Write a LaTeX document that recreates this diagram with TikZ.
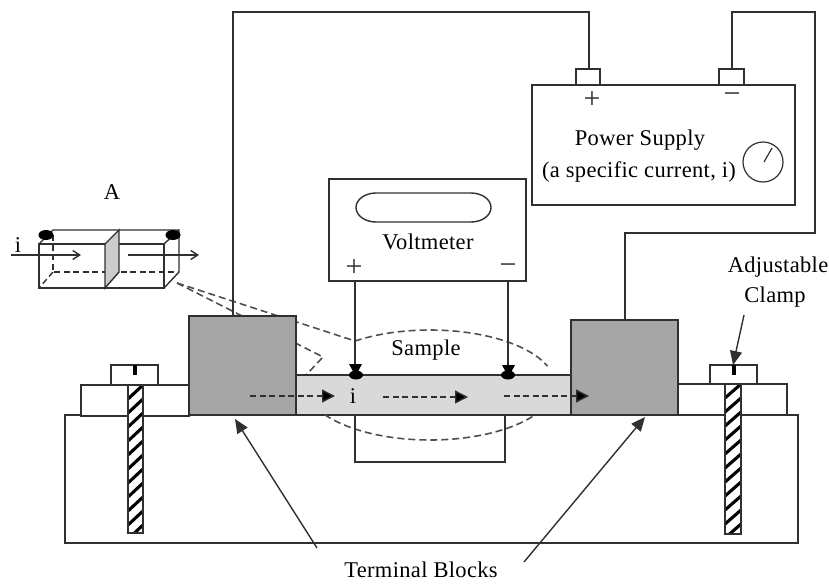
\documentclass[tikz,border=0pt]{standalone}
\usepackage{fontspec}
\setmainfont[LetterSpace=1.5]{Liberation Serif}
\usetikzlibrary{arrows.meta}
\definecolor{ink}{HTML}{303030}
\definecolor{blockgray}{HTML}{A6A6A6}
\definecolor{samplegray}{HTML}{D9D9D9}
\definecolor{secgray}{HTML}{CCCCCC}
\tikzset{
  ln/.style={draw=ink,line width=1.4pt},
  thinln/.style={draw=ink,line width=1.2pt},
  dsh/.style={draw=ink!85,line width=1.6pt,dash pattern=on 7pt off 4pt},
  dshs/.style={draw=ink,line width=1.4pt,dash pattern=on 6pt off 3.5pt},
  blockbox/.style={ln,fill=blockgray},
  plain/.style={ln,fill=white},
  lbl/.style={inner sep=0pt,font=\fontsize{22.5pt}{24pt}\selectfont,text=black},
  sign/.style={inner sep=0pt,font=\fontsize{30pt}{30pt}\selectfont,text=ink},
  big/.style={-{Triangle[length=14pt,width=12pt]},draw=ink,line width=1.4pt},
  flow/.style={dshs,-{Triangle[length=13pt,width=13pt,fill=black]}},
  open/.style={ln,-{Straight Barb[length=7pt,width=9pt]}},
  blob/.style={fill=black,draw=none},
}
\newcommand{\hatchscrew}[4]{% x1 x2 y1 y2
  \fill[white] (#1,#3) rectangle (#2,#4);
  \begin{scope}
    \clip (#1,#3) rectangle (#2,#4);
    \foreach \k in {-1,...,13}{
      \draw[black,line width=3.1pt] (#1,{#3+\k*14+14}) -- (#2,{#3+\k*14});
    }
  \end{scope}
  \draw[ln] (#1,#3) rectangle (#2,#4);
}
\begin{document}
\begin{tikzpicture}[x=1pt,y=-1pt]
\useasboundingbox (0,0) rectangle (829,584);
% dashed zoom lines behind everything
\draw[dsh] (177,283) -- (355,341);
\draw[dsh] (177,283) -- (323,357) -- (306,375);
\draw[dsh] plot[domain=-127:-20,samples=40] ({430+125*cos(\x)},{385+55*sin(\x)});
% base
\draw[ln] (65,415) rectangle (798,543);
% clamps
\draw[plain] (81,385) rectangle (189,416);
\draw[plain] (111,365) rectangle (158,385);
\draw[plain] (678,384) rectangle (787,415);
\draw[plain] (710,365) rectangle (757,384);
\hatchscrew{128}{143}{385}{533}
\hatchscrew{725}{741}{384}{534}
\fill[black] (132.5,365) rectangle (136.5,375);
\fill[black] (731.5,365) rectangle (735.5,375);
% sample and blocks
\draw[ln,fill=samplegray] (296,375) rectangle (571,415);
\draw[dsh] plot[domain=35:149,samples=40] ({430+125*cos(\x)},{385+55*sin(\x)});
% wires
\coordinate (pa) at (589,69);
\coordinate (ma) at (732,69);
\draw[ln] (233,316) -- (233,12) -- (589,12) -- (pa);
\draw[ln] (ma) -- (732,12) -- (815,12) -- (815,233) -- (625,233) -- (625,320);
\draw[ln] (355,415) -- (355,462) -- (505,462) -- (505,415);
\draw[blockbox] (189,316) rectangle (296,415);
\draw[blockbox] (571,320) rectangle (678,415);
% power supply
\draw[plain] (576,69) rectangle (600,85);
\draw[plain] (719,69) rectangle (744,85);
\node[draw=ink,line width=1.4pt,fill=white,minimum width=263pt,minimum height=120pt,inner sep=0pt] (ps) at (663.5,145) {};
\node[sign] (psp) at (592,100) {+};
\node[sign] (psm) at (732,98) {−};
\node[lbl] (ps1) at (640,140) {Power Supply};
\node[lbl] (ps2) at (639,172) {(a specific current, i)};
\draw[thinln] (763,162) circle (20);
\draw[thinln] (764,162) -- (772,148);
% voltmeter
\node[draw=ink,line width=1.4pt,fill=white,minimum width=197pt,minimum height=102pt,inner sep=0pt] (vm) at (427.5,230) {};
\draw[ln] (376,193) -- (471,193) arc[start angle=90,end angle=-90,x radius=20,y radius=-14.5] -- (376,222) arc[start angle=-90,end angle=-270,x radius=20,y radius=-14.5] -- cycle;
\node[lbl] (vt) at (428,242) {Voltmeter};
\node[sign] (vp) at (354,268) {+};
\node[sign] (vm2) at (508,269) {−};
\draw[ln] (355,281) -- (355,366);
\draw[ln] (508,281) -- (508,366);
\fill[black] (349,364) -- (362,364) -- (355.5,376) -- cycle;
\fill[black] (502,365) -- (515,365) -- (508.5,377) -- cycle;
\fill[blob] (356,375) ellipse (7 and 4.5);
\fill[blob] (508,375) ellipse (7 and 4.5);
% flow
\draw[flow] (250,396) -- (335,396);
\draw[flow] (383,397) -- (468,397);
\draw[flow] (504,396) -- (589,396);
\node[lbl] (ilab) at (353,396) {i};
\node[lbl] (samp) at (426,350) {Sample};
% inset A
\node[lbl] (alab) at (112,192) {A};
\draw[dshs] (53,235) -- (53,272) -- (179,272);
\draw[dshs] (53,272) -- (39,288);
\draw[ln] (39,244) -- (53,230) -- (179,230) -- (179,272) -- (164,288);
\draw[ln] (164,244) -- (179,230);
\draw[ln] (39,244) rectangle (164,288);
\draw[ln,fill=secgray] (105,244) -- (119,230) -- (119,272) -- (105,288) -- cycle;
\fill[blob] (46,235) ellipse (7.5 and 5);
\fill[blob] (173,235) ellipse (7.5 and 5);
\draw[open] (11,255) -- (81,255);
\draw[open] (128,255) -- (199,255);
\node[lbl] (ia) at (18,245) {i};
% labels with arrows
\node[lbl] (ac1) at (778,267) {Adjustable};
\node[lbl] (ac2) at (775,297) {Clamp};
\coordinate (acs) at (744,315);
\draw[big] (acs) -- (733,365);
\node[lbl] (tb) at (421,570) {Terminal Blocks};
\coordinate (tl) at (317,548);
\coordinate (tr) at (524,562);
\draw[big] (tl) -- (235,419);
\draw[big] (tr) -- (645,417);
\end{tikzpicture}
\end{document}
